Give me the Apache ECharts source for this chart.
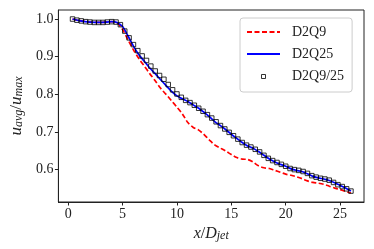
<!DOCTYPE html>
<html><head><meta charset="utf-8">
<script src="https://cdn.jsdelivr.net/npm/echarts@6/dist/echarts.min.js"></script>
<style>html,body{margin:0;padding:0;background:#fff}#c{width:374px;height:249px}</style>
</head><body><div id="c"></div>
<script>
// D2Q9 (red dashed)
const xD2Q9 = [0.4,1,2,3,4,4.5,5,5.5,6,6.5,7,7.5,8,8.5,9,9.5,10,10.5,11,11.5,12,12.5,13,13.5,14,14.5,15,15.5,16,16.5,17,17.5,18,18.5,19,19.5,20,20.5,21,21.5,22,22.5,23,23.5,24,24.5,25,25.5,26];
const yD2Q9 = [1.000,0.996,0.992,0.991,0.993,0.990,0.972,0.945,0.918,0.895,0.875,0.855,0.836,0.816,0.800,0.783,0.766,0.748,0.725,0.712,0.705,0.693,0.678,0.665,0.657,0.649,0.640,0.632,0.628,0.627,0.620,0.610,0.605,0.603,0.598,0.593,0.588,0.585,0.581,0.576,0.570,0.566,0.564,0.561,0.556,0.551,0.547,0.542,0.538];
// D2Q25 (blue solid)
const xD2Q25 = [0.4,1,2,3,4,4.5,5,5.5,6,6.5,7,7.5,8,8.5,9,9.5,10,10.5,11,11.5,12,12.5,13,13.5,14,14.5,15,15.5,16,16.5,17,17.5,18,18.5,19,19.5,20,20.5,21,21.5,22,22.5,23,23.5,24,24.5,25,25.5,26];
const yD2Q25 = [1.000,0.996,0.992,0.991,0.993,0.991,0.980,0.955,0.928,0.905,0.888,0.870,0.855,0.839,0.823,0.808,0.796,0.788,0.781,0.772,0.763,0.752,0.740,0.727,0.717,0.706,0.694,0.683,0.672,0.663,0.657,0.648,0.638,0.628,0.620,0.614,0.609,0.602,0.598,0.595,0.589,0.582,0.578,0.575,0.571,0.565,0.558,0.551,0.543];
// D2Q9/25 (open squares)
const xD2Q925 = [0.4,0.8,1.2,1.6,2.0,2.4,2.8,3.2,3.6,4.0,4.4,4.8,5.2,5.6,6.0,6.4,6.8,7.2,7.6,8.0,8.4,8.8,9.2,9.6,10.0,10.4,10.8,11.2,11.6,12.0,12.4,12.8,13.2,13.6,14.0,14.4,14.8,15.2,15.6,16.0,16.4,16.8,17.2,17.6,18.0,18.4,18.8,19.2,19.6,20.0,20.4,20.8,21.2,21.6,22.0,22.4,22.8,23.2,23.6,24.0,24.4,24.8,25.2,25.6,26.0];
const yD2Q925 = [1.000,0.997,0.995,0.993,0.992,0.991,0.991,0.991,0.992,0.993,0.992,0.985,0.968,0.950,0.932,0.916,0.902,0.890,0.875,0.862,0.850,0.840,0.826,0.812,0.801,0.792,0.784,0.778,0.771,0.763,0.755,0.746,0.737,0.727,0.717,0.708,0.699,0.690,0.681,0.672,0.665,0.660,0.654,0.647,0.638,0.630,0.624,0.619,0.614,0.609,0.603,0.600,0.598,0.595,0.590,0.584,0.580,0.577,0.575,0.572,0.566,0.560,0.555,0.549,0.543];
const xTicks = [0,5,10,15,20,25];
const yTicks = [0.6,0.7,0.8,0.9,1.0];

const zip = (a,b) => a.map((v,i)=>[v,b[i]]);
const SERIF = 'Liberation Serif';
const chart = echarts.init(document.getElementById('c'), null, {renderer:'canvas'});
const mkRich = (m,s) => ({
  i:{fontFamily:SERIF,fontStyle:'italic',fontSize:m,color:'#222',lineHeight:m,verticalAlign:'top'},
  n:{fontFamily:SERIF,fontSize:m,color:'#222',lineHeight:m,verticalAlign:'top'},
  s:{fontFamily:SERIF,fontStyle:'italic',fontSize:s,color:'#222',lineHeight:s,verticalAlign:'bottom'}
});
const axisLine = {show:true,onZero:false,lineStyle:{color:'#222',width:1}};
chart.setOption({
  animation:false,
  backgroundColor:'#fff',
  grid:{left:51,right:10,top:10,bottom:47,show:true,borderColor:'#222',borderWidth:1,backgroundColor:'transparent'},
  xAxis:{type:'value',min:-0.9,max:27.2,axisLine:axisLine,splitLine:{show:false},
    name:'{i|x}{n|/}{i|D}{s|jet}',nameLocation:'middle',nameGap:23,
    nameTextStyle:{rich:mkRich(16,12)},
    axisLabel:{customValues:xTicks,fontFamily:SERIF,fontSize:14,color:'#222',margin:5},
    axisTick:{customValues:xTicks,show:true,length:3.5,lineStyle:{color:'#222'}}
  },
  yAxis:{type:'value',min:0.514,max:1.024,axisLine:axisLine,splitLine:{show:false},
    name:'{i|u}{s|avg}{n|/}{i|u}{s|max}',nameLocation:'middle',nameGap:31,
    nameTextStyle:{rich:mkRich(17,12)},
    axisLabel:{customValues:yTicks,fontFamily:SERIF,fontSize:14,color:'#222',margin:5,formatter:v=>v.toFixed(1)},
    axisTick:{customValues:yTicks,show:true,length:3.5,lineStyle:{color:'#222'}}
  },
  legend:{
    orient:'vertical',left:240,top:18,
    padding:[7,8,8,6],itemGap:8,itemWidth:33,itemHeight:14,
    borderColor:'#ccc',borderWidth:1,borderRadius:3,backgroundColor:'#fff',
    textStyle:{fontFamily:SERIF,fontSize:14,color:'#222',padding:[0,0,0,7]},
    data:[
      {name:'D2Q9',itemStyle:{color:'rgba(0,0,0,0)',borderWidth:0,opacity:0}},
      {name:'D2Q25',itemStyle:{color:'rgba(0,0,0,0)',borderWidth:0,opacity:0}},
      {name:'D2Q9/25',icon:'path://M0,0 M14,14 M5,5 L9,5 L9,9 L5,9 Z',itemStyle:{color:'rgba(0,0,0,0)',borderColor:'#000',borderWidth:1}}
    ]
  },
  series:[
    {name:'D2Q9',type:'line',data:zip(xD2Q9,yD2Q9),symbol:'none',smooth:0.3,
      lineStyle:{color:'#ff0000',width:1.7,type:[5,2.5]},itemStyle:{color:'#ff0000'},z:2},
    {name:'D2Q25',type:'line',data:zip(xD2Q25,yD2Q25),symbol:'none',smooth:0.3,
      lineStyle:{color:'#0000ff',width:1.7},itemStyle:{color:'#0000ff'},z:3},
    {name:'D2Q9/25',type:'scatter',data:zip(xD2Q925,yD2Q925),symbol:'rect',symbolSize:4.5,
      itemStyle:{color:'rgba(0,0,0,0)',borderColor:'#000',borderWidth:1},z:4}
  ]
});
</script></body></html>
